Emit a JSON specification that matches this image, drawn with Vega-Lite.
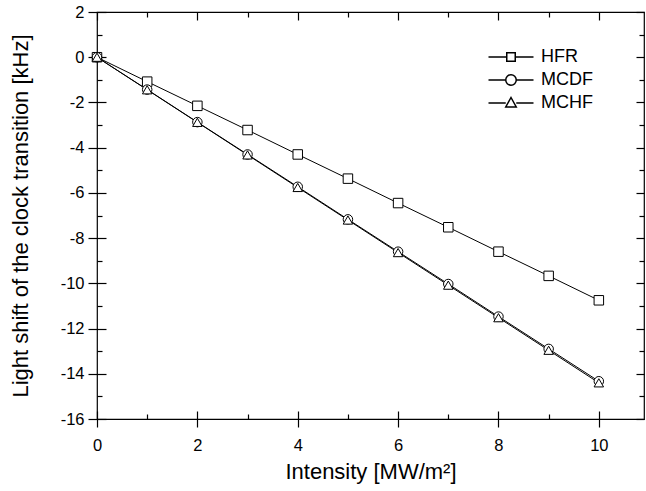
{
  "$schema": "https://vega.github.io/schema/vega-lite/v6.json",
  "width": 547,
  "height": 407,
  "autosize": "none",
  "padding": {"left": 97, "top": 12, "right": 2, "bottom": 72},
  "background": "white",
  "config": {
    "view": {"stroke": "black", "strokeWidth": 1.2},
    "font": "Liberation Sans",
    "axis": {
      "domain": false, "grid": false, "tickColor": "black", "tickWidth": 1.2,
      "labelColor": "black", "titleColor": "black",
      "labelFont": "Liberation Sans", "titleFont": "Liberation Sans",
      "labelFontSize": 16.5, "titleFontSize": 22, "titleFontWeight": "normal",
      "labelFlush": false, "labelOverlap": false,
      "labelExpr": "datum.value < 0 ? '-' + abs(datum.value) : '' + datum.value"
    }
  },
  "data": {
    "values": [
      {"intensity": 0, "shift": 0, "series": "HFR"},
      {"intensity": 1, "shift": -1.08, "series": "HFR"},
      {"intensity": 2, "shift": -2.15, "series": "HFR"},
      {"intensity": 3, "shift": -3.22, "series": "HFR"},
      {"intensity": 4, "shift": -4.3, "series": "HFR"},
      {"intensity": 5, "shift": -5.37, "series": "HFR"},
      {"intensity": 6, "shift": -6.45, "series": "HFR"},
      {"intensity": 7, "shift": -7.52, "series": "HFR"},
      {"intensity": 8, "shift": -8.6, "series": "HFR"},
      {"intensity": 9, "shift": -9.67, "series": "HFR"},
      {"intensity": 10, "shift": -10.75, "series": "HFR"},
      {"intensity": 0, "shift": 0, "series": "MCDF"},
      {"intensity": 1, "shift": -1.43, "series": "MCDF"},
      {"intensity": 2, "shift": -2.87, "series": "MCDF"},
      {"intensity": 3, "shift": -4.3, "series": "MCDF"},
      {"intensity": 4, "shift": -5.73, "series": "MCDF"},
      {"intensity": 5, "shift": -7.17, "series": "MCDF"},
      {"intensity": 6, "shift": -8.6, "series": "MCDF"},
      {"intensity": 7, "shift": -10.03, "series": "MCDF"},
      {"intensity": 8, "shift": -11.47, "series": "MCDF"},
      {"intensity": 9, "shift": -12.9, "series": "MCDF"},
      {"intensity": 10, "shift": -14.33, "series": "MCDF"},
      {"intensity": 0, "shift": 0, "series": "MCHF"},
      {"intensity": 1, "shift": -1.44, "series": "MCHF"},
      {"intensity": 2, "shift": -2.88, "series": "MCHF"},
      {"intensity": 3, "shift": -4.32, "series": "MCHF"},
      {"intensity": 4, "shift": -5.76, "series": "MCHF"},
      {"intensity": 5, "shift": -7.2, "series": "MCHF"},
      {"intensity": 6, "shift": -8.64, "series": "MCHF"},
      {"intensity": 7, "shift": -10.08, "series": "MCHF"},
      {"intensity": 8, "shift": -11.52, "series": "MCHF"},
      {"intensity": 9, "shift": -12.96, "series": "MCHF"},
      {"intensity": 10, "shift": -14.4, "series": "MCHF"}
    ]
  },
  "layer": [
    {
      "mark": {"type": "line", "color": "black", "strokeWidth": 1},
      "encoding": {
        "x": {"field": "intensity", "type": "quantitative",
          "scale": {"domain": [0, 10.9], "nice": false, "zero": false},
          "axis": {"orient": "bottom", "values": [0, 2, 4, 6, 8, 10], "tickSize": 16, "offset": -8, "labelPadding": 10, "title": "Intensity [MW/m²]", "titlePadding": 8}},
        "y": {"field": "shift", "type": "quantitative",
          "scale": {"domain": [-16, 2], "nice": false, "zero": false},
          "axis": {"orient": "left", "values": [-16, -14, -12, -10, -8, -6, -4, -2, 0, 2], "tickSize": 18, "offset": -9, "labelPadding": 4, "title": "Light shift of the clock transition [kHz]", "titlePadding": 28}},
        "detail": {"field": "series", "type": "nominal"}
      }
    },
    {
      "mark": {"type": "point", "filled": true, "fill": "white", "stroke": "black", "strokeWidth": 1, "size": 90, "opacity": 1},
      "encoding": {
        "x": {"field": "intensity", "type": "quantitative",
          "axis": {"orient": "bottom", "values": [1, 3, 5, 7, 9], "tickSize": -5, "labels": false, "title": null}},
        "y": {"field": "shift", "type": "quantitative",
          "axis": {"orient": "left", "values": [-15, -13, -11, -9, -7, -5, -3, -1, 1], "tickSize": -5, "labels": false, "title": null}},
        "shape": {"field": "series", "type": "nominal",
          "scale": {"domain": ["HFR", "MCDF", "MCHF"], "range": ["square", "circle", "triangle-up"]},
          "legend": null}
      }
    },
    {
      "transform": [{"filter": "false"}],
      "mark": {"type": "point", "filled": true, "fill": "white", "stroke": "black", "strokeWidth": 1, "opacity": 1},
      "encoding": {
        "x": {"field": "intensity", "type": "quantitative",
          "axis": {"orient": "top", "values": [0, 2, 4, 6, 8, 10], "tickSize": -8, "labels": false, "title": null}},
        "y": {"field": "shift", "type": "quantitative",
          "axis": {"orient": "right", "values": [-16, -14, -12, -10, -8, -6, -4, -2, 0, 2], "tickSize": -8, "labels": false, "title": null}},
        "shape": {"field": "series", "type": "nominal",
          "scale": {"domain": ["HFR", "MCDF", "MCHF"], "range": [
            "M-4.5,0H-0.85M0.85,0H4.5M-0.85,-0.85H0.85V0.85H-0.85Z",
            "M-4.5,0H-1.05M1.05,0H4.5M-1.05,0A1.05,1.05 0 1,0 1.05,0A1.05,1.05 0 1,0 -1.05,0Z",
            "M-4.5,0H-1.05M1.05,0H4.5M0,-1.1L1.05,0.8L-1.05,0.8Z"
          ]},
          "legend": {"orient": "none", "legendX": 405, "legendY": 36, "title": null,
            "labelFontSize": 18, "labelFont": "Liberation Sans", "labelColor": "black", "labelOffset": 21, "rowPadding": 5}}
      }
    },
    {
      "mark": {"type": "point", "opacity": 0},
      "encoding": {
        "x": {"field": "intensity", "type": "quantitative",
          "axis": {"orient": "top", "values": [1, 3, 5, 7, 9], "tickSize": -5, "labels": false, "title": null}},
        "y": {"field": "shift", "type": "quantitative",
          "axis": {"orient": "right", "values": [-15, -13, -11, -9, -7, -5, -3, -1, 1], "tickSize": -5, "labels": false, "title": null}}
      }
    }
  ],
  "resolve": {"axis": {"x": "independent", "y": "independent"}, "scale": {"shape": "independent"}}
}
